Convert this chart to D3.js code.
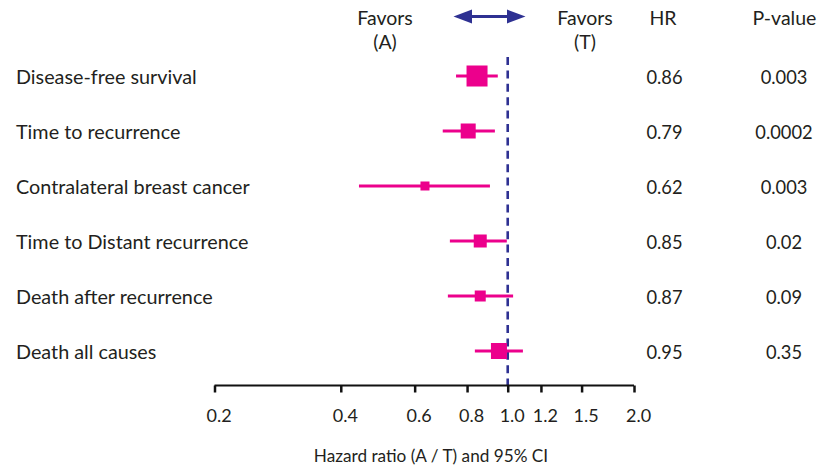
<!DOCTYPE html>
<html><head><meta charset="utf-8">
<script src="https://cdn.jsdelivr.net/npm/d3@7"></script>
<style>
html,body{margin:0;padding:0;background:#fff;}
svg text{font-family:Lato,"Noto Sans",sans-serif;fill:#231f20;}
</style></head>
<body>
<svg id="chart" width="821" height="467"></svg>
<script>
// ---- data ----
const outcomes = ["Disease-free survival","Time to recurrence","Contralateral breast cancer","Time to Distant recurrence","Death after recurrence","Death all causes"];
const hrPlot   = [0.845, 0.805, 0.635, 0.86, 0.86, 0.953];
const ciLow    = [0.753, 0.70, 0.442, 0.728, 0.72, 0.835];
const ciHigh   = [0.947, 0.932, 0.907, 0.995, 1.03, 1.087];
const weights  = [21, 15, 9, 13, 11, 16];
const hrLabels = ["0.86","0.79","0.62","0.85","0.87","0.95"];
const pLabels  = ["0.003","0.0002","0.003","0.02","0.09","0.35"];
const tickValues = [0.2,0.4,0.6,0.8,1.0,1.2,1.5,2.0];
const tickLabels = ["0.2","0.4","0.6","0.8","1.0","1.2","1.5","2.0"];

const svg = d3.select("#chart");
const magenta = "#ec008c", blue = "#2e3192";

const x = d3.scaleLog().domain([0.2, 2.0]).range([214.5, 634]);
const y = d3.scalePoint().domain(d3.range(outcomes.length)).range([83.5, 358.5]); // text baselines
const size = d3.scaleLinear().domain([0, 21]).range([0, 21]);
const markY = i => y(i) - 7.5;

// dashed reference line
svg.append("line").attr("x1", x(1)).attr("x2", x(1)).attr("y1", 57).attr("y2", 385)
  .attr("stroke", blue).attr("stroke-width", 2.6).attr("stroke-dasharray", "8,5.4");

// axis
const axis = d3.axisBottom(x).tickValues(tickValues).tickFormat((d,i)=>tickLabels[i]).tickSize(7).tickSizeOuter(0);
const gAx = svg.append("g").attr("transform", "translate(0,385.5)").call(axis);
gAx.select(".domain").attr("stroke", "#111").attr("stroke-width", 2).attr("d", `M${x(0.2)},0H${x(2.0)}`);
gAx.selectAll(".tick line").attr("stroke", "#111").attr("stroke-width", 2.5);
gAx.selectAll(".tick text").attr("y", 36).attr("dy", 0).attr("dx", 4).attr("font-size", 18).attr("fill", "#231f20")
  .style("font-family", 'Lato,"Noto Sans",sans-serif');

svg.append("text").attr("x", 431).attr("y", 461.5).attr("text-anchor", "middle")
  .attr("font-size", 17.2).text("Hazard ratio (A / T) and 95% CI");

// rows
const rows = svg.append("g").selectAll("g").data(outcomes).join("g");
rows.append("text").attr("x", 16).attr("y", (d,i)=>y(i)).attr("font-size", 19.8).text(d=>d);
rows.append("line").attr("x1",(d,i)=>x(ciLow[i])).attr("x2",(d,i)=>x(ciHigh[i]))
  .attr("y1",(d,i)=>markY(i)).attr("y2",(d,i)=>markY(i)).attr("stroke", magenta).attr("stroke-width", 3);
rows.append("rect")
  .attr("x",(d,i)=>x(hrPlot[i]) - size(weights[i])/2)
  .attr("y",(d,i)=>markY(i) - size(weights[i])/2)
  .attr("width",(d,i)=>size(weights[i])).attr("height",(d,i)=>size(weights[i]))
  .attr("fill", magenta);
rows.append("text").attr("x", 664.5).attr("y",(d,i)=>y(i)).attr("text-anchor","middle")
  .attr("font-size", 18.3).text((d,i)=>hrLabels[i]);
rows.append("text").attr("x", 784).attr("y",(d,i)=>y(i)).attr("text-anchor","middle")
  .attr("font-size", 18.3).text((d,i)=>pLabels[i]);

// header
const hdr = [["Favors",385,25],["(A)",385,48.5],["Favors",585,25],["(T)",585,48.5],["HR",663,25],["P-value",784.5,25]];
svg.append("g").selectAll("text").data(hdr).join("text")
  .attr("x",d=>d[1]).attr("y",d=>d[2]).attr("text-anchor","middle").attr("font-size",19.5).text(d=>d[0]);

// arrow
svg.append("path").attr("d","M460,16.5H520").attr("stroke",blue).attr("stroke-width",2.8).attr("fill","none");
svg.append("path").attr("d","M453.5,16.5L472,9.5L472,23.5Z").attr("fill",blue);
svg.append("path").attr("d","M525.5,16.5L507,9.5L507,23.5Z").attr("fill",blue);
</script>
</body></html>
